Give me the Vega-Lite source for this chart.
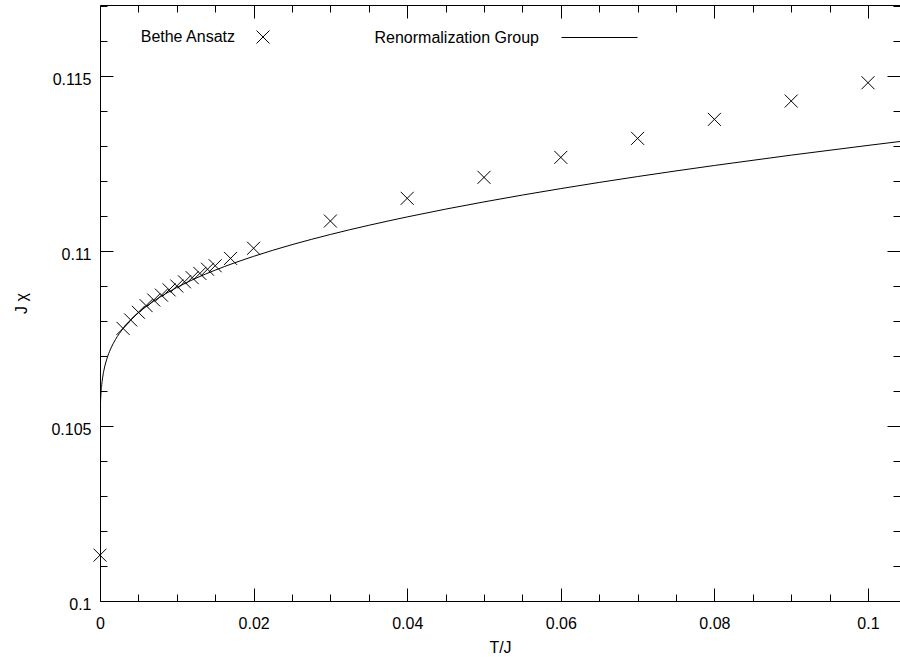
{
  "$schema": "https://vega.github.io/schema/vega-lite/v6.json",
  "width": 800,
  "height": 596,
  "autosize": "none",
  "padding": {"left": 100, "top": 5, "right": 0, "bottom": 56},
  "background": "white",
  "config": {
    "font": "Liberation Sans",
    "view": {"stroke": "black", "strokeWidth": 1},
    "axis": {
      "domain": false,
      "grid": false,
      "tickColor": "black",
      "tickWidth": 1,
      "labelColor": "black",
      "labelFontSize": 16,
      "labelFont": "Liberation Sans",
      "labelOverlap": false,
      "labelFlush": false,
      "titleColor": "black",
      "titleFontSize": 16,
      "titleFontWeight": "normal",
      "titleFont": "Liberation Sans"
    }
  },
  "data": {
    "values": [
      {"T": 0.000001, "chi": 0.104517, "series": "Renormalization Group"},
      {"T": 0.00001, "chi": 0.105061, "series": "Renormalization Group"},
      {"T": 0.00003, "chi": 0.105391, "series": "Renormalization Group"},
      {"T": 0.0001, "chi": 0.105828, "series": "Renormalization Group"},
      {"T": 0.0002, "chi": 0.106125, "series": "Renormalization Group"},
      {"T": 0.0003, "chi": 0.106316, "series": "Renormalization Group"},
      {"T": 0.0005, "chi": 0.106582, "series": "Renormalization Group"},
      {"T": 0.0007, "chi": 0.106773, "series": "Renormalization Group"},
      {"T": 0.001, "chi": 0.106989, "series": "Renormalization Group"},
      {"T": 0.0015, "chi": 0.107259, "series": "Renormalization Group"},
      {"T": 0.002, "chi": 0.107466, "series": "Renormalization Group"},
      {"T": 0.003, "chi": 0.107784, "series": "Renormalization Group"},
      {"T": 0.004, "chi": 0.10803, "series": "Renormalization Group"},
      {"T": 0.005, "chi": 0.108235, "series": "Renormalization Group"},
      {"T": 0.007, "chi": 0.108568, "series": "Renormalization Group"},
      {"T": 0.01, "chi": 0.108957, "series": "Renormalization Group"},
      {"T": 0.0125, "chi": 0.109224, "series": "Renormalization Group"},
      {"T": 0.015, "chi": 0.109454, "series": "Renormalization Group"},
      {"T": 0.02, "chi": 0.109848, "series": "Renormalization Group"},
      {"T": 0.025, "chi": 0.110182, "series": "Renormalization Group"},
      {"T": 0.03, "chi": 0.110473, "series": "Renormalization Group"},
      {"T": 0.04, "chi": 0.110975, "series": "Renormalization Group"},
      {"T": 0.05, "chi": 0.111404, "series": "Renormalization Group"},
      {"T": 0.06, "chi": 0.111784, "series": "Renormalization Group"},
      {"T": 0.07, "chi": 0.112128, "series": "Renormalization Group"},
      {"T": 0.08, "chi": 0.112444, "series": "Renormalization Group"},
      {"T": 0.09, "chi": 0.11274, "series": "Renormalization Group"},
      {"T": 0.1, "chi": 0.113018, "series": "Renormalization Group"},
      {"T": 0.10417, "chi": 0.11313, "series": "Renormalization Group"},
      {"T": 0.0, "chi": 0.10131, "series": "Bethe Ansatz"},
      {"T": 0.003, "chi": 0.10779, "series": "Bethe Ansatz"},
      {"T": 0.004, "chi": 0.10803, "series": "Bethe Ansatz"},
      {"T": 0.005, "chi": 0.10825, "series": "Bethe Ansatz"},
      {"T": 0.006, "chi": 0.10844, "series": "Bethe Ansatz"},
      {"T": 0.007, "chi": 0.1086, "series": "Bethe Ansatz"},
      {"T": 0.008, "chi": 0.10874, "series": "Bethe Ansatz"},
      {"T": 0.009, "chi": 0.10889, "series": "Bethe Ansatz"},
      {"T": 0.01, "chi": 0.109, "series": "Bethe Ansatz"},
      {"T": 0.011, "chi": 0.10912, "series": "Bethe Ansatz"},
      {"T": 0.012, "chi": 0.10924, "series": "Bethe Ansatz"},
      {"T": 0.013, "chi": 0.10936, "series": "Bethe Ansatz"},
      {"T": 0.014, "chi": 0.10948, "series": "Bethe Ansatz"},
      {"T": 0.015, "chi": 0.10958, "series": "Bethe Ansatz"},
      {"T": 0.017, "chi": 0.10979, "series": "Bethe Ansatz"},
      {"T": 0.02, "chi": 0.11008, "series": "Bethe Ansatz"},
      {"T": 0.03, "chi": 0.110857, "series": "Bethe Ansatz"},
      {"T": 0.04, "chi": 0.111506, "series": "Bethe Ansatz"},
      {"T": 0.05, "chi": 0.112105, "series": "Bethe Ansatz"},
      {"T": 0.06, "chi": 0.112676, "series": "Bethe Ansatz"},
      {"T": 0.07, "chi": 0.113219, "series": "Bethe Ansatz"},
      {"T": 0.08, "chi": 0.113762, "series": "Bethe Ansatz"},
      {"T": 0.09, "chi": 0.114286, "series": "Bethe Ansatz"},
      {"T": 0.1, "chi": 0.114809, "series": "Bethe Ansatz"}
    ]
  },
  "layer": [
    {
      "transform": [{"filter": "datum.series === 'Renormalization Group'"}],
      "mark": {"type": "line", "strokeWidth": 1, "interpolate": "monotone", "clip": true},
      "encoding": {
        "x": {
          "field": "T", "type": "quantitative",
          "scale": {"domain": [0, 0.104167], "nice": false, "zero": false},
          "axis": {
            "orient": "bottom",
            "values": [0, 0.005, 0.01, 0.015, 0.02, 0.025, 0.03, 0.035, 0.04, 0.045, 0.05, 0.055, 0.06, 0.065, 0.07, 0.075, 0.08, 0.085, 0.09, 0.095, 0.1],
            "format": "~g",
            "tickSize": {"condition": {"test": "abs(datum.value*50 - round(datum.value*50)) < 0.001", "value": -13}, "value": -7},
            "labelExpr": "abs(datum.value*50 - round(datum.value*50)) < 0.001 ? datum.label : ''",
            "labelPadding": 27,
            "title": "T/J",
            "titlePadding": 2
          }
        },
        "y": {
          "field": "chi", "type": "quantitative",
          "scale": {"domain": [0.1, 0.11703], "nice": false, "zero": false},
          "axis": {
            "orient": "left",
            "values": [0.1, 0.101, 0.102, 0.103, 0.104, 0.105, 0.106, 0.107, 0.108, 0.109, 0.11, 0.111, 0.112, 0.113, 0.114, 0.115, 0.116, 0.117],
            "format": "~g",
            "tickSize": {"condition": {"test": "abs(datum.value*200 - round(datum.value*200)) < 0.001", "value": -13}, "value": -7},
            "labelExpr": "abs(datum.value*200 - round(datum.value*200)) < 0.001 ? datum.label : ''",
            "labelPadding": 22,
            "labelOffset": 3,
            "title": "J χ",
            "titlePadding": 21
          }
        },
        "stroke": {
          "field": "series", "type": "nominal",
          "scale": {"domain": ["Renormalization Group"], "range": ["black"]},
          "legend": {
            "orient": "none", "legendX": 461, "legendY": -6,
            "title": null, "padding": 0,
            "symbolType": "stroke", "symbolSize": 5776, "symbolStrokeWidth": 1, "symbolStrokeColor": "black",
            "labelFontSize": 16, "labelColor": "black", "labelFont": "Liberation Sans",
            "labelAlign": "right", "labelOffset": -99, "labelLimit": 0
          }
        }
      }
    },
    {
      "transform": [{"filter": "datum.series === 'Bethe Ansatz'"}],
      "mark": {"type": "point", "filled": false, "color": "black", "stroke": "black", "strokeWidth": 1, "size": 169, "opacity": 1},
      "encoding": {
        "x": {
          "field": "T", "type": "quantitative",
          "axis": {
            "orient": "top",
            "values": [0, 0.005, 0.01, 0.015, 0.02, 0.025, 0.03, 0.035, 0.04, 0.045, 0.05, 0.055, 0.06, 0.065, 0.07, 0.075, 0.08, 0.085, 0.09, 0.095, 0.1],
            "tickSize": {"condition": {"test": "abs(datum.value*50 - round(datum.value*50)) < 0.001", "value": -13}, "value": -7},
            "labels": false,
            "title": null
          }
        },
        "y": {
          "field": "chi", "type": "quantitative",
          "axis": {
            "orient": "right",
            "values": [0.1, 0.101, 0.102, 0.103, 0.104, 0.105, 0.106, 0.107, 0.108, 0.109, 0.11, 0.111, 0.112, 0.113, 0.114, 0.115, 0.116, 0.117],
            "tickSize": {"condition": {"test": "abs(datum.value*200 - round(datum.value*200)) < 0.001", "value": -13}, "value": -7},
            "labels": false,
            "title": null
          }
        },
        "shape": {
          "field": "series", "type": "nominal",
          "scale": {"domain": ["Bethe Ansatz"], "range": ["M-1,-1L1,1M-1,1L1,-1"]},
          "legend": {
            "orient": "none", "legendX": 155, "legendY": 24,
            "title": null, "padding": 0,
            "symbolSize": 169, "symbolStrokeWidth": 1, "symbolStrokeColor": "black", "symbolFillColor": "transparent",
            "labelFontSize": 16, "labelColor": "black", "labelFont": "Liberation Sans",
            "labelAlign": "right", "labelOffset": -36, "labelLimit": 0
          }
        }
      }
    }
  ],
  "resolve": {"axis": {"x": "independent", "y": "independent"}}
}
